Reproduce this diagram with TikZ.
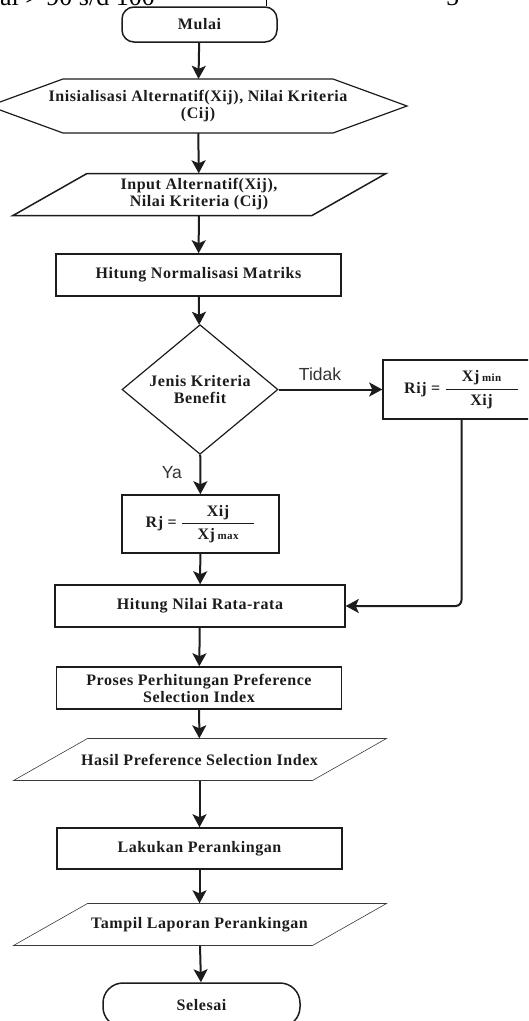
\documentclass[tikz,border=0pt]{standalone}
\usepackage{fontspec}
\setmainfont{Liberation Serif}[LetterSpace=3.5]
\newfontfamily\polos{Liberation Serif}
\setsansfont{Liberation Sans}
\usetikzlibrary{shapes.geometric,arrows.meta}
\definecolor{garis}{HTML}{1C1C1C}
\definecolor{tipis}{HTML}{3A3A3A}
\newcommand{\jajargenjang}[2][]{\draw[#1] ([shift={(-186,21)}]#2.center) -- ([shift={(-112,-21)}]#2.center) -- ([shift={(187,-21)}]#2.center) -- ([shift={(113,21)}]#2.center) -- cycle;}

\begin{document}
\begin{tikzpicture}[x=1pt,y=-1pt,
	font=\fontsize{16}{17}\selectfont\bfseries, text=garis,
	kotak/.style={draw=garis, line width=1.5pt, minimum width=285pt, minimum height=42pt, align=center, inner sep=2pt},
	ujung/.style={draw=garis, line width=1.5pt, minimum height=35pt},
	masuk/.style={minimum width=226pt, minimum height=42pt, align=center, inner sep=0pt},
	panah/.style={line width=2pt, draw=garis, -{Stealth[length=13pt,width=14pt,inset=3pt]}},
	ket/.style={font=\sffamily\fontsize{17.5}{18}\selectfont, text=black!80}]
		\useasboundingbox (0,0) rectangle (528,1021);
		\clip (0,0) rectangle (528,1021);
		% sisa tabel dari halaman
		\node[anchor=base east, inner sep=0pt, font=\polos\fontsize{26}{26}\selectfont, text=black] (sisa) at (155,5) {ai > 90 s/d 100};
		\node[anchor=base, inner sep=0pt, font=\polos\fontsize{26}{26}\selectfont, text=black] (lima) at (452.5,5) {5};
		\draw[line width=1pt, black] (266,0) -- (266,6);
		% alur
		\node[ujung, rounded corners=12pt, minimum width=155pt] (mulai) at (199.5,24.5){Mulai};
		\node[minimum height=54pt, align=center, inner sep=0pt] (init) at (198,106){Inisialisasi Alternatif(Xij), Nilai Kriteria\\(Cij)};
		\draw[line width=1.2pt, garis] (init.center) ++(-209,0) -- ++(74,-27) -- ++(270,0) -- ++(74,27) -- ++(-74,27) -- ++(-270,0) -- cycle;
		\node[masuk] (input) at (199,194.5){Input Alternatif(Xij),\\Nilai Kriteria (Cij)};
		\jajargenjang[line width=1.5pt, garis]{input}
		\node[kotak] (normal) at (198.5,275){Hitung Normalisasi Matriks};
		\node[diamond, draw=garis, line width=1.2pt, minimum width=156pt, minimum height=107pt, align=center, inner sep=0pt] (jenis) at (200,389.5){Jenis Kriteria\\Benefit};
		\node[kotak, minimum width=157pt, minimum height=59pt] (rij) at (461.5,389.5){Rij =\hspace{4pt}$\displaystyle\frac{\makebox[72pt]{Xj\,{\fontsize{11}{11}\selectfont min}}}{\mbox{Xij}}$};
		\node[kotak, minimum width=157pt, minimum height=58pt] (rj) at (200.5,524){Rj =\hspace{4pt}$\displaystyle\frac{\makebox[72pt]{Xij}}{\mbox{Xj\,{\fontsize{11}{11}\selectfont max}}}$};
		\node[kotak, minimum width=290pt] (rata) at (200,606){Hitung Nilai Rata-rata};
		\node[kotak] (proses) at (199,688){Proses Perhitungan Preference\\Selection Index};
		\node[masuk] (hasil) at (199.5,759.5){Hasil Preference Selection Index};
		\jajargenjang[line width=0.6pt, tipis]{hasil}
		\node[kotak, minimum height=41pt] (lakukan) at (199.5,848.5){Lakukan Perankingan};
		\node[masuk] (tampil) at (199.5,924.5){Tampil Laporan Perankingan};
		\jajargenjang[line width=0.6pt, tipis]{tampil}
		\node[ujung, rounded corners=20pt, minimum width=197pt, minimum height=44pt] (selesai) at (201.5,1005){Selesai};
		% panah
		\draw[panah] (mulai) -- (init);
		\draw[panah] (init) -- (input);
		\draw[panah] (input) -- (normal);
		\draw[panah] (normal) -- (jenis);
		\draw[panah] (jenis) -- (rij) node[ket, pos=0.4, above=5pt]{Tidak};
		\draw[panah] (jenis) -- (rj) node[ket, pos=0.45, left=14pt]{Ya};
		\draw[panah] (rj) -- (rata);
		\draw[panah, rounded corners=6pt] (rij) -- (rij |- rata) -- (rata);
		\draw[panah] (rata) -- (proses);
		\draw[panah] (proses) -- (hasil);
		\draw[panah] (hasil) -- (lakukan);
		\draw[panah] (lakukan) -- (tampil);
		\draw[panah] (tampil) -- (selesai);
\end{tikzpicture}
\end{document}
